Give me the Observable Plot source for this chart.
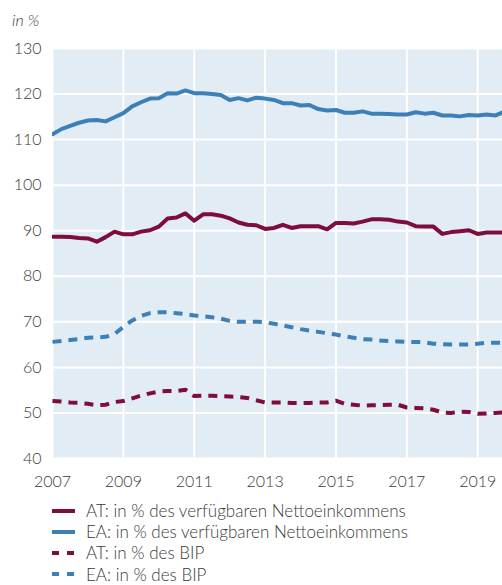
<!DOCTYPE html>
<html>
<head>
<meta charset="utf-8">
<script src="https://cdn.jsdelivr.net/npm/d3@7"></script>
<script src="https://cdn.jsdelivr.net/npm/@observablehq/plot@0.6"></script>
<style>
  html, body { margin: 0; padding: 0; background: #fff; }
  #wrap { position: relative; width: 502px; height: 585px; font-family: Lato, "Open Sans", sans-serif; font-weight: 300; color: #3a3a3a; }
  #unit { position: absolute; left: 12px; top: 10px; font-size: 16px; font-style: italic; }
  #chart { position: absolute; left: 0; top: 0; }
  #legend { position: absolute; left: 52px; top: 500px; font-size: 17px; line-height: 21.2px; }
  #legend .row { display: flex; align-items: center; white-space: nowrap; height: 21.2px; }
  #legend svg { margin-right: 11px; }
</style>
</head>
<body>
<div id="wrap">
  <div id="chart"></div>
  <div id="unit">in %</div>
  <div id="legend"></div>
</div>
<script>
// Quarterly observations, 2007 Q1 onwards
const startYear = 2007;
const xTicks = [2007, 2009, 2011, 2013, 2015, 2017, 2019];
const yTicks = [40, 50, 60, 70, 80, 90, 100, 110, 120, 130];

const atIncome = [
  88.7, 88.7, 88.6, 88.4,
  88.3, 87.6, 88.6, 89.8,
  89.2, 89.2, 89.8, 90.1,
  90.9, 92.7, 92.9, 93.8,
  92.2, 93.6, 93.6, 93.3,
  92.7, 91.8, 91.3, 91.2,
  90.4, 90.6, 91.3, 90.6,
  91.0, 91.0, 91.0, 90.3,
  91.7, 91.7, 91.6, 92.0,
  92.5, 92.5, 92.4, 92.0,
  91.8, 91.0, 90.9, 90.9,
  89.3, 89.7, 89.9, 90.1,
  89.3, 89.6, 89.6, 89.6
];
const eaIncome = [
  111.2, 112.3, 113.0, 113.7,
  114.2, 114.3, 114.0, 114.9,
  115.8, 117.3, 118.2, 119.0,
  119.1, 120.2, 120.1, 120.8,
  120.2, 120.2, 120.0, 119.8,
  118.7, 119.1, 118.6, 119.2,
  119.0, 118.7, 118.0, 118.0,
  117.5, 117.6, 116.7, 116.4,
  116.5, 115.9, 115.9, 116.2,
  115.7, 115.7, 115.6, 115.5,
  115.5, 116.0, 115.7, 115.9,
  115.3, 115.3, 115.1, 115.4,
  115.3, 115.5, 115.3, 116.1
];
const atGdp = [
  52.6, 52.5, 52.3, 52.2,
  52.0, 51.7, 51.8, 52.4,
  52.6, 53.2, 53.8, 54.3,
  54.7, 54.8, 54.8, 55.1,
  53.7, 53.8, 53.8, 53.7,
  53.6, 53.5, 53.3, 52.8,
  52.3, 52.3, 52.3, 52.2,
  52.2, 52.2, 52.3, 52.3,
  52.7, 52.0, 51.8, 51.6,
  51.7, 51.7, 51.8, 51.8,
  51.2, 51.1, 51.0, 50.7,
  50.1, 50.0, 50.3, 50.2,
  49.8, 49.9, 50.0, 50.1
];
const eaGdp = [
  65.6, 65.8, 66.0, 66.2,
  66.5, 66.6, 66.7, 67.3,
  68.9, 70.3, 71.3, 71.9,
  72.1, 72.1, 71.9, 71.7,
  71.4, 71.2, 71.0, 70.7,
  70.2, 70.0, 70.0, 70.0,
  69.9, 69.6, 69.2, 68.8,
  68.4, 68.1, 67.8, 67.5,
  67.2, 66.8, 66.5, 66.2,
  66.1, 65.9, 65.8, 65.7,
  65.6, 65.6, 65.5, 65.2,
  65.1, 65.0, 65.0, 65.0,
  65.2, 65.4, 65.4, 65.4
];

const seriesNames = [
  "AT: in % des verfügbaren Nettoeinkommens",
  "EA: in % des verfügbaren Nettoeinkommens",
  "AT: in % des BIP",
  "EA: in % des BIP"
];
const seriesValues = [atIncome, eaIncome, atGdp, eaGdp];
const seriesColors = ["#7e0c3c", "#3d80b7", "#7e0c3c", "#3d80b7"];
const seriesDash = [null, null, "9,7", "9,7"];

const rows = [];
seriesValues.forEach((vals, s) => {
  vals.forEach((v, i) => rows.push({series: s, t: startYear + i / 4, v}));
});

const marks = [
  Plot.frame({fill: "#e2ecf5", stroke: "none"}),
  Plot.gridX(xTicks, {stroke: "#fff", strokeOpacity: 1, strokeWidth: 2}),
  Plot.gridY(yTicks, {stroke: "#fff", strokeOpacity: 1, strokeWidth: 2}),
  Plot.axisX(xTicks, {tickSize: 0, tickPadding: 17, tickFormat: d => String(d), fontSize: 16, fill: "#3a3a3a", label: null}),
  Plot.axisY(yTicks, {tickSize: 0, tickPadding: 11, fontSize: 16, fill: "#3a3a3a", label: null})
];
[0, 1, 2, 3].forEach(s => {
  marks.push(Plot.line(rows.filter(d => d.series === s), {
    x: "t", y: "v",
    stroke: seriesColors[s],
    strokeWidth: 4,
    strokeDasharray: seriesDash[s] || undefined,
    strokeLinecap: seriesDash[s] ? "butt" : "round",
    strokeLinejoin: "round",
    clip: true
  }));
});

const chart = Plot.plot({
  width: 502,
  height: 495,
  marginTop: 48,
  marginLeft: 52,
  marginRight: 0,
  marginBottom: 37,
  style: {fontFamily: "Lato, 'Open Sans', sans-serif", fontWeight: 300, fontSize: "16px", background: "transparent", color: "#3a3a3a"},
  x: {domain: [2007, 2019.7], label: null},
  y: {domain: [40, 130], label: null},
  marks
});
document.getElementById("chart").appendChild(chart);

const legend = document.getElementById("legend");
seriesNames.forEach((name, s) => {
  const row = document.createElement("div");
  row.className = "row";
  const dash = seriesDash[s] ? 'stroke-dasharray="7,8"' : "";
  row.innerHTML = `<svg width="23" height="8"><line x1="0" x2="23" y1="4" y2="4" stroke="${seriesColors[s]}" stroke-width="4" ${dash}/></svg><span>${name}</span>`;
  legend.appendChild(row);
});
</script>
</body>
</html>
